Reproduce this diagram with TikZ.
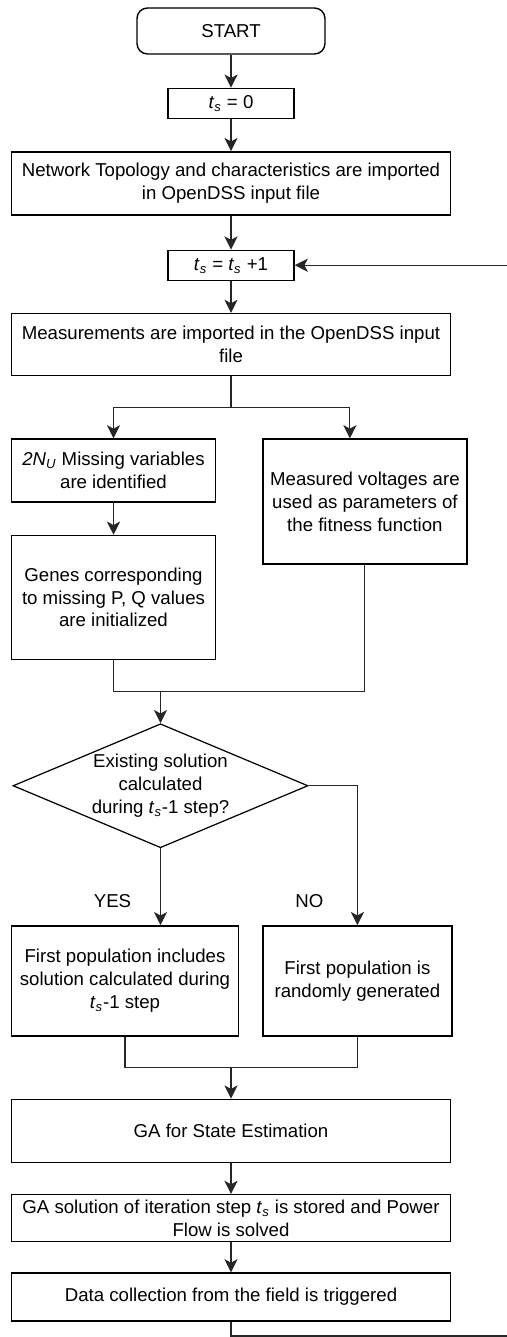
\documentclass[tikz,border=0pt]{standalone}
\usepackage{fontspec}
\setmainfont{Liberation Sans}
\usepackage{tikz}
\usetikzlibrary{arrows.meta,positioning,shapes.geometric}
\newcommand{\tstep}{\textit{t}\textsubscript{\textit{s}}}

\begin{document}
\begin{tikzpicture}[
        node distance=0.64cm,
        block/.style={draw, line width=0.8pt, align=center, inner sep=1pt, minimum width=8.78cm, minimum height=1.26cm, font=\fontsize{10.6}{13}\selectfont},
        startbox/.style={block, rounded corners=6pt, minimum width=3.76cm, minimum height=0.92cm},
        decision/.style={diamond, draw, line width=0.7pt, align=center, inner sep=0pt, shape aspect=2.4, minimum width=5.9cm, minimum height=2.48cm, font=\fontsize{10.6}{13}\selectfont},
        lbl/.style={font=\fontsize{10.6}{13}\selectfont},
        line/.style={-{Stealth[length=7.5pt, width=7.5pt, inset=2pt]}, line width=0.6pt, black!85},
        link/.style={line width=0.6pt, black!85}
    ]
        \useasboundingbox (0,0) rectangle (10.14,-26.74);
        \node[startbox] (start) at (4.62,-0.62) {START};
        \node[block, below=0.66cm of start, minimum width=2.52cm, minimum height=0.6cm] (tzero) {\tstep{} = 0};
        \node[block, below=of tzero] (topo) {Network Topology and characteristics are imported\\in OpenDSS input file};
        \node[block, below=0.68cm of topo, minimum width=2.52cm, minimum height=0.6cm] (tinc) {\tstep{} = \tstep{} +1};
        \node[block, below=of tinc, minimum height=1.24cm] (meas) {Measurements are imported in the OpenDSS input\\file};
        \node[block, below right=1.24cm and 0cm of meas.south west, minimum width=4.08cm] (miss) {\textit{2N}\textsubscript{\textit{U}} Missing variables\\are identified};
        \node[block, below right=0cm and 0.92cm of miss.north east, minimum width=4.08cm, minimum height=2.5cm] (volt) {Measured voltages are\\used as parameters of\\the fitness function};
        \node[block, below=of miss, minimum width=4.08cm, minimum height=2.48cm] (genes) {Genes corresponding\\to missing P, Q values\\are initialized};
        \node[decision, below=1.26cm of genes, xshift=0.94cm] (exist) {Existing solution\\calculated\\during \tstep-1 step?};
        \node[block, below right=5.3cm and 0cm of genes.south west, minimum width=4.54cm, minimum height=2.2cm] (popold) {First population includes\\solution calculated during\\\tstep-1 step};
        \node[block, below right=0cm and 0.46cm of popold.north east, minimum width=3.78cm, minimum height=2.2cm] (popnew) {First population is\\randomly generated};
        \node[block, below right=1.24cm and 0cm of popold.south west] (ga) {GA for State Estimation};
        \node[block, below=0.62cm of ga, minimum height=0.94cm] (store) {GA solution of iteration step \tstep{} is stored and Power\\Flow is solved};
        \node[block, below=0.6cm of store, minimum height=0.96cm] (collect) {Data collection from the field is triggered};
        \node[lbl] (yes) at ([xshift=-0.96cm, yshift=0.48cm]exist.south |- popold.north) {YES};
        \node[lbl] (no) at ([xshift=-0.96cm, yshift=0.48cm]popnew.north) {NO};
        \coordinate (loopend) at (10.14,-26.72);

        \draw[line] (start) -- (tzero);
        \draw[line] (tzero) -- (topo);
        \draw[line] (topo) -- (tinc);
        \draw[line] (tinc) -- (meas);
        \draw[link] (meas.south) -- ++(0,-0.62) coordinate (split);
        \draw[line] (split) -| (miss.north);
        \draw[line] (split) -| ([xshift=-0.3cm]volt.north);
        \draw[line] (miss) -- (genes);
        \draw[link] (genes.south) -- ++(0,-0.62) coordinate (join) -| (volt.south);
        \draw[line] (join -| exist.north) -- (exist.north);
        \draw[line] (exist.south) -- (exist.south |- popold.north);
        \draw[line] (exist.east) -| (popnew.north);
        \draw[link] (popold.south) -- ++(0,-0.62) coordinate (merge) -| (popnew.south);
        \draw[line] (merge -| ga.north) -- (ga.north);
        \draw[line] (ga) -- (store);
        \draw[line] (store) -- (collect);
        \draw[link] (collect.south) |- (loopend);
        \draw[line] (tinc.east -| loopend) -- (tinc.east);
    \end{tikzpicture}
\end{document}
